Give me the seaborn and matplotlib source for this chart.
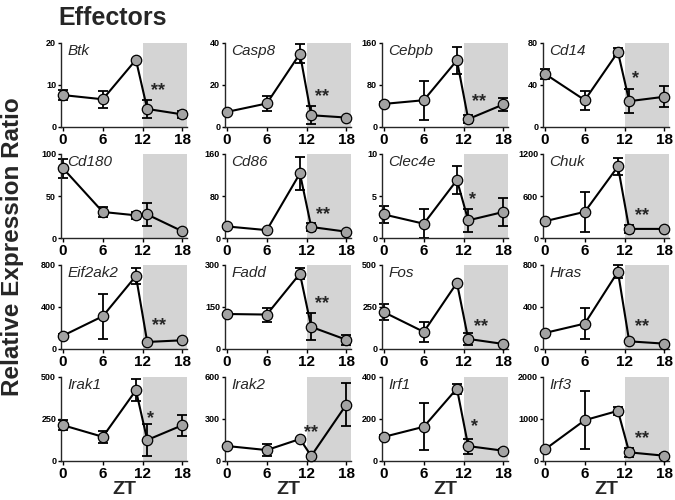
import matplotlib
matplotlib.use("Agg")
import matplotlib.pyplot as plt
import seaborn as sns
import pandas as pd

# ---------------- data ----------------
zt = [0, 6, 11, 12.7, 18]
genes = ["Btk", "Casp8", "Cebpb", "Cd14",
         "Cd180", "Cd86", "Clec4e", "Chuk",
         "Eif2ak2", "Fadd", "Fos", "Hras",
         "Irak1", "Irak2", "Irf1", "Irf3"]
y_max = [20, 40, 160, 80,
         100, 160, 10, 1200,
         800, 300, 500, 800,
         500, 600, 400, 2000]
means = [
    [7.6, 6.6, 16.0, 4.3, 3.0],
    [7.2, 11.2, 34.9, 5.6, 4.5],
    [44, 51, 127, 15, 43],
    [50.6, 25.6, 71.4, 24.6, 28.8],
    [83, 31, 27, 28, 8],
    [22, 15, 123, 21, 12],
    [2.8, 1.7, 6.9, 2.1, 3.1],
    [240, 374, 1022, 130, 130],
    [127, 312, 695, 67, 83],
    [125, 123, 269, 79, 33],
    [219, 102, 394, 60, 30],
    [153, 242, 736, 73, 51],
    [213, 144, 421, 125, 213],
    [107, 78, 157, 36, 403],
    [115, 163, 345, 71, 49],
    [277, 972, 1194, 206, 126],
]
sems = [
    [1.2, 2.0, 0.3, 2.2, 0.9],
    [0.5, 3.8, 4.6, 4.2, 0.5],
    [3, 37, 26, 7, 13],
    [4.8, 9, 4, 11.5, 10],
    [11, 5.5, 4, 13.5, 1],
    [2, 2, 31, 8, 2],
    [1.0, 1.7, 1.65, 1.35, 1.7],
    [20, 283, 120, 62, 20],
    [15, 213, 80, 10, 10],
    [5, 25, 20, 48, 18],
    [47, 60, 5, 35, 5],
    [10, 150, 60, 10, 10],
    [30, 37, 66, 95, 63],
    [8, 43, 10, 8, 152],
    [8, 112, 24, 36, 8],
    [40, 692, 100, 100, 40],
]
stars = ["**", "**", "**", "*",
         "", "**", "*", "**",
         "**", "**", "**", "**",
         "*", "**", "*", "**"]
star_x = [14.3, 14.3, 14.3, 13.6,
          0, 14.5, 13.3, 14.6,
          14.5, 14.3, 14.6, 14.6,
          13.2, 12.6, 13.6, 14.6]
star_frac = [0.43, 0.36, 0.30, 0.58,
             0, 0.28, 0.46, 0.27,
             0.28, 0.54, 0.27, 0.27,
             0.51, 0.34, 0.41, 0.27]
x_ticks = [0, 6, 12, 18]

# ---------------- style ----------------
sns.set_theme(style="ticks")
plt.rcParams["font.family"] = ["Liberation Sans", "DejaVu Sans"]
plt.rcParams["axes.linewidth"] = 1.0

fig = plt.figure(figsize=(6.75, 5.0), dpi=100)

col_left = [61, 225, 382, 543]
row_bottom = [127, 238, 349, 461]
ax_w, ax_h = 126, 84
W, H = 675, 500

for i, g in enumerate(genes):
    r, c = divmod(i, 4)
    ax = fig.add_axes([col_left[c] / W, 1 - row_bottom[r] / H, ax_w / W, ax_h / H])
    ym = y_max[i]
    df = pd.DataFrame({"ZT": zt, "val": means[i]})
    ax.axvspan(12, 18.7, color="#d4d4d4", lw=0, zorder=0)
    ax.errorbar(zt, means[i], yerr=sems[i], fmt="none", ecolor="black",
                elinewidth=1.3, capsize=3.5, capthick=1.3, zorder=2, clip_on=False)
    sns.lineplot(data=df, x="ZT", y="val", ax=ax, color="black", lw=1.5,
                 marker="o", markersize=7.5, markerfacecolor="#a3a3a3",
                 markeredgecolor="black", markeredgewidth=0.9, zorder=3,
                 clip_on=False)
    ax.set_xlim(-0.3, 18.7)
    ax.set_ylim(0, ym)
    ax.set_xticks(x_ticks)
    ax.set_xticklabels([str(t) for t in x_ticks], fontsize=11, fontweight="bold")
    ax.set_yticks([0, ym / 2, ym])
    ax.set_yticklabels([f"{v:g}" for v in [0, ym / 2, ym]], fontsize=6.5,
                       fontweight="bold")
    ax.tick_params(axis="x", length=3, width=1, pad=1.5, colors="black")
    ax.tick_params(axis="y", length=2.5, width=1, pad=1, colors="black")
    sns.despine(ax=ax)
    ax.set_ylabel("")
    ax.set_xlabel("ZT" if r == 3 else "", fontsize=14, fontweight="bold", labelpad=0)
    ax.text(0.05, 0.985, g, transform=ax.transAxes, fontsize=11, fontstyle="italic",
            va="top", ha="left")
    if stars[i]:
        ax.text(star_x[i], star_frac[i] * ym, stars[i], fontsize=13,
                fontweight="bold", ha="center", va="center")

fig.text(58 / W, 1 - 18 / H, "Effectors", fontsize=18, fontweight="bold",
         ha="left", va="center")
fig.text(13 / W, 1 - 247 / H, "Relative Expression Ratio", fontsize=17.5,
         fontweight="bold", rotation=90, ha="center", va="center")

fig.savefig("out.png", dpi=100)
